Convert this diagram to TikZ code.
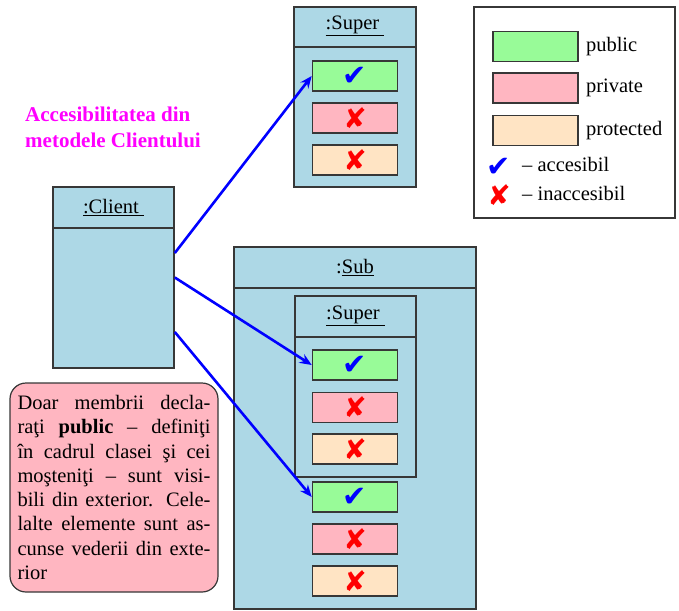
\documentclass[tikz,border=0pt]{standalone}
\usepackage{fontspec}
\setmainfont{Liberation Serif}
\newfontfamily\symfont{DejaVu Sans}
\usetikzlibrary{arrows.meta}
\definecolor{clsblue}{RGB}{173,216,230}
\definecolor{pubgreen}{RGB}{152,251,152}
\definecolor{privpink}{RGB}{255,182,193}
\definecolor{protpeach}{RGB}{255,228,196}
\definecolor{edgegray}{RGB}{55,55,55}
\definecolor{titlemag}{RGB}{255,0,255}
\tikzstyle{classbox}=[rectangle,draw=edgegray,line width=1.6pt,fill=clsblue,inner sep=0pt]
\tikzstyle{member}=[rectangle,draw=edgegray,line width=1.6pt,minimum width=85pt,minimum height=30pt,inner sep=0pt]
\tikzstyle{pub}=[member,fill=pubgreen]
\tikzstyle{priv}=[member,fill=privpink]
\tikzstyle{prot}=[member,fill=protpeach]
\tikzstyle{access}=[draw=blue,line width=2.6pt,-{Stealth[length=12pt,width=10pt,inset=4pt]}]
\newcommand{\okmark}{{\symfont\color{blue}\fontsize{29}{29}\selectfont ✔}}
\newcommand{\nomark}{{\symfont\color{red}\fontsize{28}{28}\selectfont ✘}}

\begin{document}
\begin{tikzpicture}[x=1pt,y=-1pt,font=\fontsize{20.5}{24.3}\selectfont]
    \useasboundingbox (0,0) rectangle (679,610);
%   title
    \node[anchor=north west,align=left,inner sep=0pt,text=titlemag,font=\fontsize{21}{25.5}\selectfont\bfseries] (title) at (25,107) {Accesibilitatea din\\metodele Clientului};
%   client
    \node[classbox,minimum width=121pt,minimum height=181pt] (client) at (113.5,277.5) {};
    \draw[edgegray,line width=1.6pt] ([yshift=-42pt]client.north west) -- ([yshift=-42pt]client.north east);
    \node (clienth) at ([yshift=-21pt]client.north) {\underline{:Client\ }};
%   super alone
    \node[classbox,minimum width=122pt,minimum height=180pt] (super1) at (355,97) {};
    \draw[edgegray,line width=1.6pt] ([yshift=-41pt]super1.north west) -- ([yshift=-41pt]super1.north east);
    \node (super1h) at ([yshift=-20pt]super1.north) {\underline{:Super\ }};
    \node[pub]  (pub1)  at (355,76)  {\okmark};
    \node[priv] (priv1) at (355,118) {\nomark};
    \node[prot] (prot1) at (355,160) {\nomark};
%   sub with inner super
    \node[classbox,minimum width=242pt,minimum height=362pt] (sub) at (355,428) {};
    \draw[edgegray,line width=1.6pt] ([yshift=-42pt]sub.north west) -- ([yshift=-42pt]sub.north east);
    \node (subh) at ([yshift=-21pt]sub.north) {:\underline{Sub}};
    \node[classbox,minimum width=121pt,minimum height=181pt] (super2) at (355.5,386.5) {};
    \draw[edgegray,line width=1.6pt] ([yshift=-42pt]super2.north west) -- ([yshift=-42pt]super2.north east);
    \node (super2h) at ([yshift=-21pt]super2.north) {\underline{:Super\ }};
    \node[pub]  (pub2)  at (355,365)   {\okmark};
    \node[priv] (priv2) at (355,407.5) {\nomark};
    \node[prot] (prot2) at (355,449)   {\nomark};
    \node[pub]  (pub3)  at (355,497)   {\okmark};
    \node[priv] (priv3) at (355,539)   {\nomark};
    \node[prot] (prot3) at (355,581)   {\nomark};
%   legend
    \node[draw=edgegray,line width=1.2pt,fill=white,minimum width=201pt,minimum height=211pt] (legend) at (574.5,112.5) {};
    \node[pub]  (leg1) at (535.5,46.5)  {};
    \node[priv] (leg2) at (535.5,88)    {};
    \node[prot] (leg3) at (535.5,130.5) {};
    \node[anchor=west,inner sep=0pt] (leg1t) at ([xshift=7pt]leg1.east) {public};
    \node[anchor=west,inner sep=0pt] (leg2t) at ([xshift=7pt]leg2.east) {private};
    \node[anchor=west,inner sep=0pt] (leg3t) at ([xshift=7pt]leg3.east) {protected};
    \node[inner sep=0pt] (legok) at (499,167) {\okmark};
    \node[inner sep=0pt] (legno) at (499,195) {\nomark};
    \node[anchor=west,inner sep=0pt] (legokt) at (522,164) {– accesibil};
    \node[anchor=west,inner sep=0pt] (legnot) at (522,193) {– inaccesibil};
%   note
    \node[draw=edgegray,line width=1.2pt,fill=privpink,rounded corners=16pt,text width=193pt,align=justify,minimum height=209pt,inner xsep=7.5pt] (note) at (114,487.5)
      {\hyphenpenalty=10000 Doar membrii decla-\linebreak raţi \textbf{public} – definiţi\linebreak în cadrul clasei şi cei\linebreak moşteniţi – sunt visi-\linebreak bili din exterior. Cele-\linebreak lalte elemente sunt as-\linebreak cunse vederii din exte-\linebreak rior};
%   access arrows
    \draw[access] ([yshift=24.5pt]client.east) -- (pub1.west);
    \draw[access] (client.east) -- (pub2.west);
    \draw[access] ([yshift=-54.5pt]client.east) -- (pub3.west);
\end{tikzpicture}
\end{document}
